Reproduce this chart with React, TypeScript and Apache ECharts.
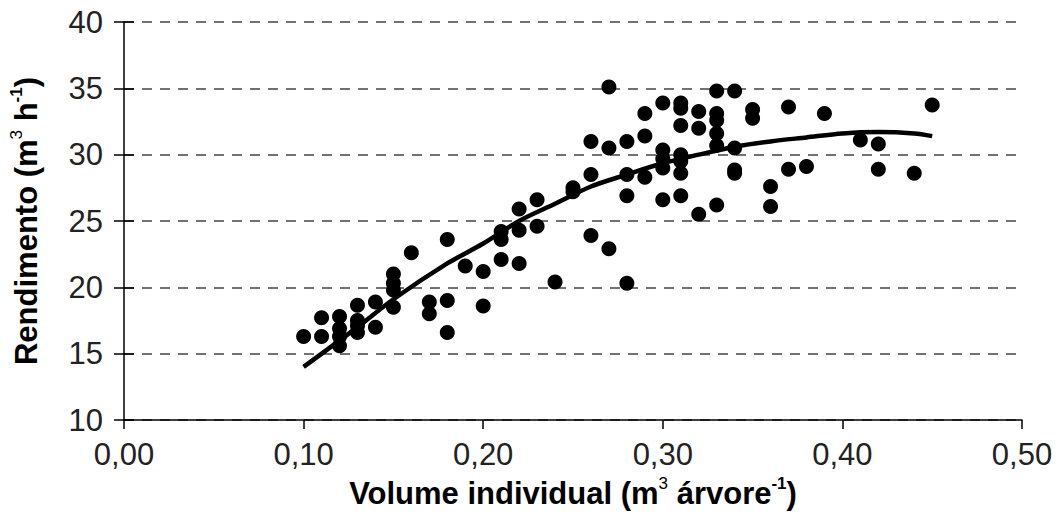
import React, { useEffect, useRef } from "react";
import * as echarts from "echarts";

const volume = [
  0.10,
  0.11, 0.11,
  0.12, 0.12, 0.12, 0.12,
  0.13, 0.13, 0.13, 0.13,
  0.14, 0.14,
  0.15, 0.15, 0.15, 0.15,
  0.16,
  0.17, 0.17,
  0.18, 0.18, 0.18,
  0.19,
  0.20, 0.20,
  0.21, 0.21, 0.21,
  0.22, 0.22, 0.22,
  0.23, 0.23,
  0.24,
  0.25, 0.25,
  0.26, 0.26, 0.26,
  0.27, 0.27, 0.27,
  0.28, 0.28, 0.28, 0.28,
  0.29, 0.29, 0.29,
  0.30, 0.30, 0.30, 0.30, 0.30,
  0.31, 0.31, 0.31, 0.31, 0.31, 0.31, 0.31,
  0.32, 0.32, 0.32,
  0.33, 0.33, 0.33, 0.33, 0.33, 0.33,
  0.34, 0.34, 0.34, 0.34,
  0.35, 0.35,
  0.36, 0.36,
  0.37, 0.37,
  0.38,
  0.39,
  0.41,
  0.42, 0.42,
  0.44,
  0.45,
];

const rendimento = [
  16.3,
  16.3, 17.7,
  17.8, 16.9, 16.3, 15.6,
  18.65, 17.5, 17.1, 16.6,
  18.9, 17.0,
  21.0, 20.3, 19.8, 18.5,
  22.6,
  18.9, 18.0,
  23.6, 19.0, 16.6,
  21.6,
  21.2, 18.6,
  24.2, 23.6, 22.1,
  25.9, 24.3, 21.8,
  26.6, 24.6,
  20.4,
  27.5, 27.2,
  31.0, 28.5, 23.9,
  35.1, 30.5, 22.9,
  31.0, 28.5, 26.9, 20.3,
  33.1, 31.4, 28.3,
  33.9, 30.35, 29.7, 29.0, 26.6,
  33.9, 33.5, 32.2, 30.0, 29.5, 28.6, 26.9,
  33.25, 32.0, 25.5,
  34.8, 33.1, 32.6, 31.6, 30.7, 26.2,
  34.8, 30.5, 28.85, 28.6,
  33.4, 32.75,
  27.6, 26.1,
  33.6, 28.9,
  29.1,
  33.1,
  31.1,
  30.8, 28.9,
  28.6,
  33.75,
];

const trendX = [0.10, 0.13, 0.15, 0.18, 0.20, 0.22, 0.24, 0.26, 0.28, 0.30, 0.32, 0.34, 0.36, 0.38, 0.40, 0.42, 0.44, 0.45];
const trendY = [14.0, 17.0, 19.1, 21.8, 23.3, 25.0, 26.3, 27.6, 28.5, 29.35, 30.0, 30.6, 31.0, 31.3, 31.6, 31.7, 31.6, 31.4];

const xTicks = [0, 0.1, 0.2, 0.3, 0.4, 0.5];
const yTicks = [10, 15, 20, 25, 30, 35, 40];

const FONT = "'Liberation Sans', Arial, sans-serif";

const nameRich = {
  b: { fontSize: 31, fontWeight: "bold", fontFamily: FONT, color: "#000", lineHeight: 36 },
  s: { fontSize: 17, fontWeight: "bold", fontFamily: FONT, color: "#000", lineHeight: 17, verticalAlign: "top" },
  t: { fontSize: 17, fontWeight: "normal", fontFamily: FONT, color: "#000", lineHeight: 24, verticalAlign: "top" },
};

export default function App() {
  const ref = useRef<HTMLDivElement>(null);

  useEffect(() => {
    if (!ref.current) return;
    const chart = echarts.init(ref.current, null, { renderer: "svg" });
    const scatterData = volume.map((v, i) => [v, rendimento[i]]);
    const trendData = trendX.map((v, i) => [v, trendY[i]]);
    chart.setOption({
      animation: false,
      backgroundColor: "#fff",
      grid: { left: 123, right: 37, top: 22, bottom: 94, containLabel: false },
      xAxis: {
        type: "value",
        min: xTicks[0],
        max: xTicks[xTicks.length - 1],
        interval: 0.1,
        name: "{b|Volume individual (m}{t|3}{b| árvore}{s|-1}{b|)}",
        nameLocation: "middle",
        nameGap: 55,
        nameTextStyle: { rich: nameRich },
        axisLine: { show: true, onZero: false, lineStyle: { color: "#000", width: 1.5 } },
        axisTick: { show: true, inside: false, length: 9, lineStyle: { color: "#000", width: 1.5 } },
        axisLabel: {
          fontSize: 31,
          fontFamily: FONT,
          color: "#222",
          margin: 19,
          formatter: (v: number) => v.toFixed(2).replace(".", ","),
        },
        splitLine: { show: false },
      },
      yAxis: [
        {
          type: "value",
          min: yTicks[0],
          max: yTicks[yTicks.length - 1],
          interval: 5,
          name: "{b|Rendimento (m}{t|3}{b| h}{s|-1}{b|)}",
          nameLocation: "middle",
          nameGap: 80,
          nameTextStyle: { rich: nameRich },
          axisLine: { show: true, lineStyle: { color: "#000", width: 1.5 } },
          axisTick: { show: true, inside: false, length: 10, lineStyle: { color: "#000", width: 1.5 } },
          axisLabel: { fontSize: 31, fontFamily: FONT, color: "#222", margin: 21 },
          splitLine: {
            show: true,
            lineStyle: { color: "#444", width: 1.5, type: [10, 8] },
          },
        },
        {
          type: "value",
          position: "left",
          min: yTicks[0],
          max: yTicks[yTicks.length - 1],
          interval: 5,
          axisLine: { show: false },
          axisTick: { show: true, inside: true, length: 10, lineStyle: { color: "#000", width: 1.5 } },
          axisLabel: { show: false },
          splitLine: { show: false },
        },
      ],
      series: [
        {
          type: "line",
          data: trendData,
          showSymbol: false,
          symbol: "none",
          smooth: 0.3,
          lineStyle: { color: "#000", width: 4.5 },
          z: 3,
        },
        {
          type: "scatter",
          data: scatterData,
          symbol: "circle",
          symbolSize: 15,
          itemStyle: { color: "#000", opacity: 1 },
          z: 4,
        },
      ],
    });
    return () => chart.dispose();
  }, []);

  return (
    <div
      ref={ref}
      style={{ position: "fixed", left: 0, top: 0, width: 1059, height: 514, background: "#fff" }}
    />
  );
}
